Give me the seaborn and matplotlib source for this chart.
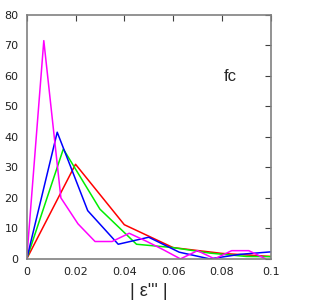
import numpy as np
import pandas as pd
import matplotlib
matplotlib.use("Agg")
import matplotlib.pyplot as plt
import seaborn as sns

# Data
red_x = [0, 0.02, 0.04, 0.06, 0.08, 0.1]
red_y = [0, 31.0, 11.2, 3.7, 1.8, 0.8]

green_x = [0, 0.015, 0.03, 0.045, 0.06, 0.075, 0.09, 0.105]
green_y = [0, 36.0, 16.3, 4.8, 3.7, 1.9, 0.8, 0.7]

blue_x = [0, 0.0125, 0.025, 0.0375, 0.05, 0.0625, 0.075, 0.0875, 0.1]
blue_y = [0, 41.5, 15.8, 4.8, 7.1, 2.2, 0.0, 1.5, 2.3]

magenta_x = [0, 0.007, 0.014, 0.021, 0.028, 0.035, 0.042, 0.049, 0.056,
             0.063, 0.070, 0.077, 0.084, 0.091, 0.098]
magenta_y = [0, 71.5, 20.0, 11.5, 5.7, 5.7, 8.4, 5.8, 3.0,
             0.0, 2.7, 0.0, 2.7, 2.7, 0.0]

xticks = [0, 0.02, 0.04, 0.06, 0.08, 0.1]
xtick_labels = ["0", "0.02", "0.04", "0.06", "0.08", "0.1"]
yticks = [0, 10, 20, 30, 40, 50, 60, 70, 80]

sns.set_style("white")
plt.rcParams['font.family'] = ['DejaVu Sans']

fig = plt.figure(figsize=(3.34, 3.0), dpi=100)
ax = fig.add_axes([0.08, 0.137, 0.7305, 0.814])

series = [
    (red_x, red_y, "#ff0000"),
    (green_x, green_y, "#00ee00"),
    (blue_x, blue_y, "#0000ff"),
    (magenta_x, magenta_y, "#ff00ff"),
]
for xs, ys, c in series:
    df = pd.DataFrame({"x": xs, "y": ys})
    sns.lineplot(data=df, x="x", y="y", color=c, linewidth=1.1, ax=ax,
                 estimator=None, sort=False)

ax.set_xlim(0, 0.1)
ax.set_ylim(0, 80)
ax.set_xticks(xticks)
ax.set_xticklabels(xtick_labels)
ax.set_yticks(yticks)
ax.tick_params(direction="in", length=4, width=0.8, color="#404040",
               labelsize=8, labelcolor="#202020", top=True, right=True,
               pad=6)
for s in ax.spines.values():
    s.set_color("#808080")
    s.set_linewidth(1.2)

ax.set_xlabel("| \u03b5''' |", fontsize=13, family=['Liberation Sans', 'DejaVu Sans'],
              labelpad=4)
ax.set_ylabel("")
ax.text(0.833, 0.745, "fc", transform=ax.transAxes, fontsize=12,
        family=['Liberation Sans', 'DejaVu Sans'], ha="center", va="center")

fig.savefig("out.png", dpi=100)
